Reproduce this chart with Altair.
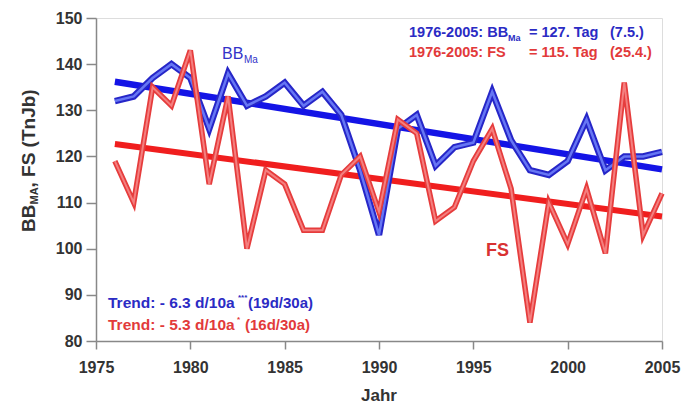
import altair as alt
import pandas as pd

# ---- data ----
years = list(range(1976, 2006))
bb_ma = [132, 133, 137, 140, 137, 126, 138, 131, 133, 136,
         131, 134, 129, 117, 103, 126, 129, 118, 122, 123,
         134, 123.5, 117, 116, 119, 128, 117, 120, 120, 121]
fs = [119, 110, 135, 131, 143, 114, 133, 100, 117, 114,
      104, 104, 116, 120, 108, 128, 125, 106, 109, 119,
      126, 113, 84, 110, 101, 113, 99, 136, 103, 112]
trend_years = [1976, 2005]
bb_trend = [136.2, 117.2]
fs_trend = [122.7, 107.0]
x_ticks = [1975, 1980, 1985, 1990, 1995, 2000, 2005]
y_ticks = [80, 90, 100, 110, 120, 130, 140, 150]

df = pd.DataFrame({"Jahr": years, "BB": bb_ma, "FS": fs})
tr = pd.DataFrame({"Jahr": trend_years, "BB": bb_trend, "FS": fs_trend})

FONT = "Liberation Sans"
AX = "#888888"
TXT = "#333333"
BLUE_T = "#2b2bc4"
RED_T = "#e23a3a"

xenc = alt.X("Jahr:Q",
             scale=alt.Scale(domain=[1975, 2005], nice=False, zero=False),
             axis=alt.Axis(values=x_ticks, format="d", title=None, grid=False,
                           domainColor=AX, domainWidth=1.5, tickColor=AX,
                           tickWidth=1.5, tickSize=8, labelPadding=10,
                           labelFont=FONT, labelFontSize=16, labelFontWeight="bold",
                           labelColor=TXT, labelFlush=False))


def yenc(field):
    return alt.Y(f"{field}:Q",
                 scale=alt.Scale(domain=[80, 150], nice=False, zero=False),
                 axis=alt.Axis(values=y_ticks, title=None, grid=False,
                               domainColor=AX, domainWidth=1.5, tickColor=AX,
                               tickWidth=1.5, tickSize=10, labelPadding=4,
                               labelFont=FONT, labelFontSize=16, labelFontWeight="bold",
                               labelColor=TXT))


def line(data, field, color, width):
    return alt.Chart(data).mark_line(color=color, strokeWidth=width,
                                     strokeJoin="miter").encode(x=xenc, y=yenc(field))


one = pd.DataFrame({"a": [0]})


def txt(text, px, py, color, size, weight="bold", angle=0, align="left"):
    return alt.Chart(one).mark_text(text=text, color=color, fontSize=size,
                                    fontWeight=weight, font=FONT, align=align,
                                    baseline="alphabetic", angle=angle).encode(
        x=alt.value(px), y=alt.value(py))


layers = [
    line(tr, "FS", "#f01e1e", 6),
    line(tr, "BB", "#1414e6", 6.5),
    line(df, "BB", "#2626c8", 6.5),
    line(df, "BB", "#6676f4", 2.5),
    line(df, "FS", "#e63c3c", 5.5),
    line(df, "FS", "#f47f7f", 2),
    # annotations inside the plot
    txt("BB", 126, 41, "#3232c8", 16, weight="normal"),
    txt("Ma", 148, 45, "#3232c8", 10, weight="normal"),
    txt("FS", 390, 238, "#d83232", 18),
    txt("1976-2005: BB", 313, 19, BLUE_T, 14.5),
    txt("Ma", 412, 22.5, BLUE_T, 9),
    txt("= 127. Tag", 433, 19, BLUE_T, 14.5),
    txt("(7.5.)", 514, 19, BLUE_T, 14.5),
    txt("1976-2005: FS", 313, 39, RED_T, 14.5),
    txt("= 115. Tag", 433, 39, RED_T, 14.5),
    txt("(25.4.)", 514, 39, RED_T, 14.5),
    txt("Trend: - 6.3 d/10a", 12, 290, BLUE_T, 15.5),
    txt("***", 142, 282, BLUE_T, 8),
    txt("(19d/30a)", 152, 290, BLUE_T, 15),
    txt("Trend: - 5.3 d/10a", 12, 312, RED_T, 15.5),
    txt("*", 141, 304, RED_T, 8),
    txt("(16d/30a)", 149, 312, RED_T, 15),
    # axis titles
    txt("Jahr", 283, 383, TXT, 17, align="center"),
    txt("BB", -61, 214, TXT, 19, angle=270),
    txt("MA", -58, 186.5, TXT, 11, angle=270),
    txt(", FS (TnJb)", -61, 169.5, TXT, 19, angle=270),
]

chart = alt.layer(*layers).properties(
    width=566, height=323,
    autosize=alt.AutoSizeParams(type="none"),
    padding={"left": 88, "top": 10, "right": 28, "bottom": 66},
).configure_view(stroke=AX, strokeWidth=1.5).configure(background="white")

chart.save("out.html", embed_options={"renderer": "svg", "actions": False})
